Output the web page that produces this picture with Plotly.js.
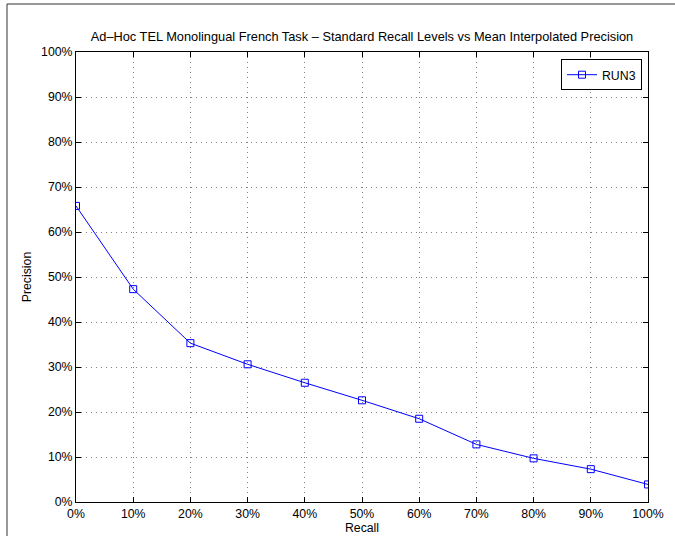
<!DOCTYPE html>
<html>
<head>
<meta charset="utf-8">
<script src="https://cdn.plot.ly/plotly-3.0.1.min.js"></script>
<style>
html,body{margin:0;padding:0;background:#fff;}
#chart{width:675px;height:536px;}
</style>
</head>
<body>
<div id="chart"></div>
<script>
var recallLevels = [0, 10, 20, 30, 40, 50, 60, 70, 80, 90, 100];
var run3Precision = [65.8, 47.3, 35.3, 30.6, 26.5, 22.6, 18.5, 12.8, 9.7, 7.3, 3.9];
var tickValues = [0, 10, 20, 30, 40, 50, 60, 70, 80, 90, 100];
var tickLabels = ['0%', '10%', '20%', '30%', '40%', '50%', '60%', '70%', '80%', '90%', '100%'];
var seriesName = 'RUN3';

var fontFam = 'Liberation Sans, Arial, Helvetica, sans-serif';
var fs = 12.3;

var trace = {
  x: recallLevels,
  y: run3Precision,
  type: 'scatter',
  mode: 'lines+markers',
  name: seriesName,
  line: {color: '#0000ff', width: 1},
  marker: {symbol: 'square-open', size: 7, color: '#0000ff', line: {width: 1, color: '#0000ff'}}
};

var axisCommon = {
  tickmode: 'array',
  tickvals: tickValues,
  ticktext: tickLabels,
  ticks: 'inside',
  ticklen: 5,
  tickwidth: 1,
  tickcolor: '#000',
  showline: true,
  linecolor: '#000',
  linewidth: 1,
  mirror: 'ticks',
  showgrid: true,
  gridcolor: '#808080',
  griddash: '1px,4px',
  gridwidth: 1,
  zeroline: false,
  tickfont: {family: fontFam, size: fs, color: '#000'},
  fixedrange: true
};

var layout = {
  width: 675,
  height: 536,
  margin: {l: 76, r: 27, t: 52, b: 34},
  paper_bgcolor: '#fff',
  plot_bgcolor: '#fff',
  font: {family: fontFam, size: fs, color: '#000'},
  title: {
    text: 'Ad\u2013Hoc TEL Monolingual French Task \u2013 Standard Recall Levels vs Mean Interpolated Precision',
    font: {family: fontFam, size: 12.8, color: '#000'},
    xref: 'paper', x: 0.5, xanchor: 'center',
    yref: 'container', y: 1 - 37/536, yanchor: 'middle'
  },
  xaxis: Object.assign({}, axisCommon, {
    range: [0, 100],
    title: {text: 'Recall', font: {family: fontFam, size: fs, color: '#000'}, standoff: 0}
  }),
  yaxis: Object.assign({}, axisCommon, {
    range: [0, 100],
    title: {text: 'Precision', font: {family: fontFam, size: fs, color: '#000'}, standoff: 6}
  }),
  showlegend: true,
  legend: {
    x: 0.9895, xanchor: 'right',
    y: 0.984, yanchor: 'top',
    bgcolor: '#fff',
    bordercolor: '#000',
    borderwidth: 1,
    font: {family: fontFam, size: fs, color: '#000'},
    itemwidth: 30,
    tracegroupgap: 0
  },
  shapes: [{
    type: 'rect', xref: 'paper', yref: 'paper',
    x0: (7 - 76) / 572, x1: 1.2,
    y0: -0.3, y1: (502 - 4) / 450,
    line: {color: '#333', width: 1},
    fillcolor: 'rgba(0,0,0,0)',
    layer: 'below'
  }]
};

Plotly.newPlot('chart', [trace], layout, {displayModeBar: false, staticPlot: true});
</script>
</body>
</html>
